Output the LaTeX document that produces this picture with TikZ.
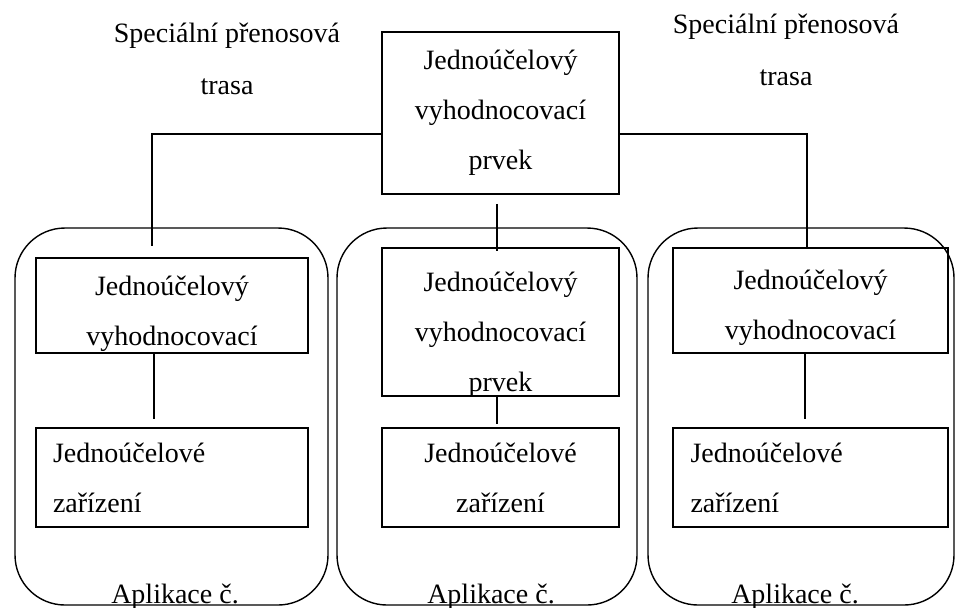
\documentclass[tikz,border=0pt]{standalone}
\usepackage{fontspec}
\setmainfont{Liberation Serif}
\usetikzlibrary{positioning}

\begin{document}
\begin{tikzpicture}[
    x=0.5pt, y=-0.5pt,
    font=\fontsize{14}{25}\selectfont,
    box/.style={draw, rectangle, line width=0.8pt, align=center, inner sep=0pt},
    app/.style={draw, rectangle, rounded corners=25pt, line width=0.7pt, minimum height=188.5pt, inner sep=0pt},
    note/.style={align=center, font=\fontsize{14}{26}\selectfont},
    link/.style={line width=0.8pt}
]
    \useasboundingbox (0,0) rectangle (956,607);

    % applications
    \node (lapp) [app, minimum width=156.5pt] at (171.5,416.5) {};
    \node (mapp) [app, minimum width=150pt] at (487,416.5) {};
    \node (rapp) [app, minimum width=153pt] at (801,416.5) {};
    \node (lname) [anchor=base] at (175,603) {Aplikace č.};
    \node (mname) [anchor=base] at (491,603) {Aplikace č.};
    \node (rname) [anchor=base] at (795,603) {Aplikace č.};

    % evaluation elements
    \node (top) [box, minimum width=118.5pt, minimum height=81pt] at (500.5,113) {Jednoúčelový\\vyhodnocovací\\prvek};
    \node (lup) [box, minimum width=136pt, minimum height=47.5pt, text height=39.5pt, text depth=0pt] at (172,305.5) {Jednoúčelový\\vyhodnocovací};
    \node (mup) [box, minimum width=118.5pt, minimum height=74pt, text height=69.5pt, text depth=0pt] at (500.5,322) {Jednoúčelový\\vyhodnocovací\\prvek};
    \node (rup) [box, minimum width=137.5pt, minimum height=52.5pt, text height=39pt, text depth=0pt] at (810.5,300.5) {Jednoúčelový\\vyhodnocovací};

    % devices
    \node (llow) [box, below of=lup, node distance=86pt, minimum width=136pt, minimum height=49.5pt, text width=119pt, align=left] {Jednoúčelové\\zařízení};
    \node (mlow) [box, below of=mup, node distance=77.75pt, minimum width=118.5pt, minimum height=49.5pt] {Jednoúčelové\\zařízení};
    \node (rlow) [box, below of=rup, node distance=88.5pt, minimum width=137.5pt, minimum height=49.5pt, text width=120pt, align=left] {Jednoúčelové\\zařízení};

    \node (lnote) [note] at (227,59) {Speciální přenosová\\trasa};
    \node (rnote) [note] at (786,50) {Speciální přenosová\\trasa};

    \draw [link] ([yshift=-10.5pt]top.west) -| ([xshift=-10pt, yshift=5.5pt]lup.north);
    \draw [link] ([yshift=-10.5pt]top.east) -| ([xshift=-1.75pt]rup.north);
    \draw [link] ([xshift=-1.75pt, yshift=-4.5pt]top.south) -- ([xshift=-1.75pt, yshift=-2pt]mup.north);
    \draw [link] ([xshift=-9pt]lup.south) -- ([xshift=-9pt, yshift=4pt]llow.north);
    \draw [link] ([xshift=-1.75pt]mup.south) -- ([xshift=-1.75pt, yshift=1.5pt]mlow.north);
    \draw [link] ([xshift=-2.75pt]rup.south) -- ([xshift=-2.75pt, yshift=4pt]rlow.north);
\end{tikzpicture}
\end{document}
